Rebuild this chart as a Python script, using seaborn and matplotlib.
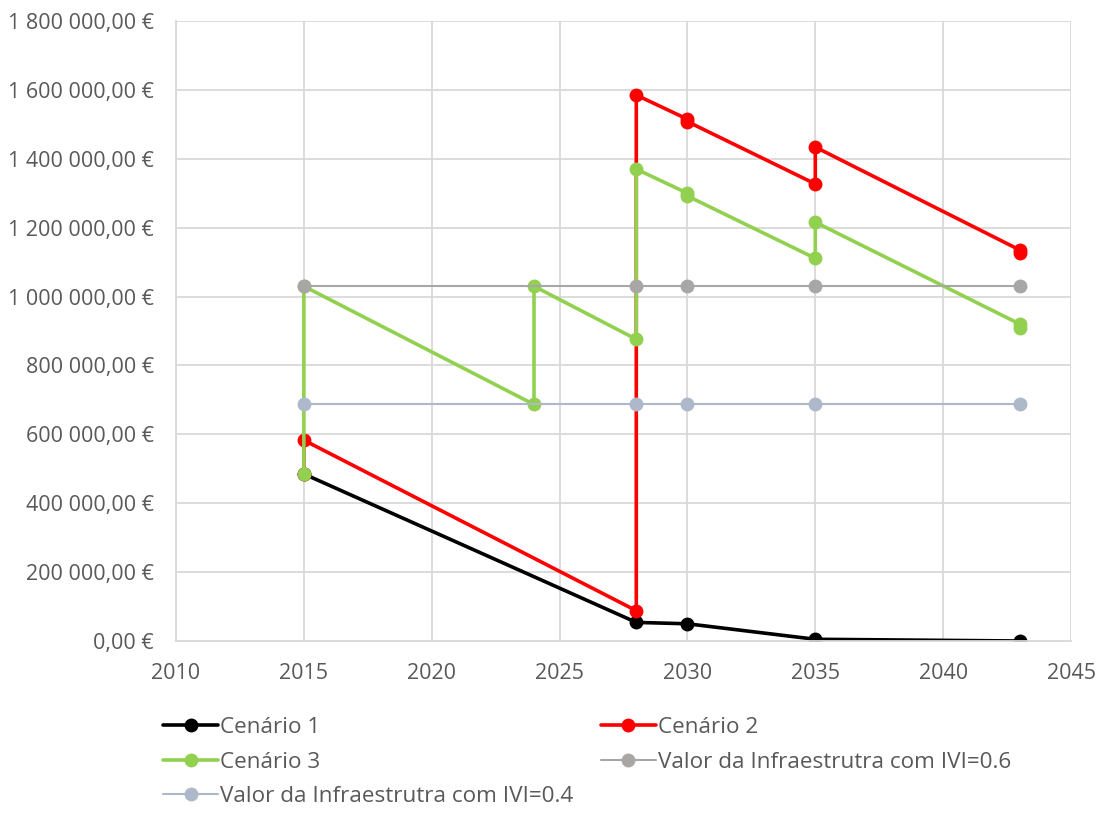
import matplotlib
matplotlib.use("Agg")
import matplotlib.pyplot as plt
import matplotlib.ticker as mticker
import seaborn as sns

# Series values (year, value in €)
anos_c1 = [2015, 2028, 2030, 2035, 2043]
val_c1 = [485000, 54000, 50000, 5000, 0]

anos_c2 = [2015, 2015, 2028, 2028, 2030, 2030, 2035, 2035, 2043, 2043]
val_c2 = [485000, 583000, 88000, 1585000, 1515000, 1508000, 1327000, 1434000, 1135000, 1126000]

anos_c3 = [2015, 2015, 2024, 2024, 2028, 2028, 2030, 2030, 2035, 2035, 2043, 2043]
val_c3 = [485000, 1030000, 686667, 1030000, 876000, 1370000, 1300000, 1292000, 1111000, 1216000, 920000, 910000]

anos_ivi = [2015, 2028, 2030, 2035, 2043]
val_ivi06 = [1030000, 1030000, 1030000, 1030000, 1030000]
val_ivi04 = [686667, 686667, 686667, 686667, 686667]

nomes = ["Cenário 1", "Cenário 2", "Cenário 3",
         "Valor da Infraestrutra com IVI=0.6",
         "Valor da Infraestrutra com IVI=0.4"]
cores = ["#000000", "#FF0000", "#92D050", "#A9A6A6", "#ADB9CA"]

sns.set_theme(style="whitegrid")
plt.rcParams["font.family"] = ["Open Sans", "DejaVu Sans"]
texto = "#595959"

fig = plt.figure(figsize=(10.98, 8.18), dpi=100)
ax = fig.add_axes([176 / 1098, 1 - 641 / 818, (1071 - 176) / 1098, (641 - 21) / 818])

series = [
    (anos_c1, val_c1, 2.6, 10),
    (anos_c2, val_c2, 2.6, 10),
    (anos_c3, val_c3, 2.6, 10),
    (anos_ivi, val_ivi06, 1.5, 10),
    (anos_ivi, val_ivi04, 1.5, 10),
]
for (xs, ys, lw, ms), nome, cor in zip(series, nomes, cores):
    sns.lineplot(x=xs, y=ys, sort=False, estimator=None, ax=ax, color=cor,
                 linewidth=lw, marker="o", markersize=ms, markeredgewidth=0,
                 label=nome)

ax.set_xlim(2010, 2045)
ax.set_ylim(0, 1800000)
ax.xaxis.set_major_locator(mticker.MultipleLocator(5))
ax.yaxis.set_major_locator(mticker.MultipleLocator(200000))


def euro(v, pos):
    s = f"{v:,.2f}"
    s = s.replace(",", " ").replace(".", ",")
    return s + " €"


ax.yaxis.set_major_formatter(mticker.FuncFormatter(euro))
ax.tick_params(axis="both", length=0, labelsize=15.5, labelcolor=texto)
ax.tick_params(axis="y", pad=16)
ax.tick_params(axis="x", pad=16)
ax.grid(True, color="#D9D9D9", linewidth=1.3)
for lado in ["top", "right"]:
    ax.spines[lado].set_visible(False)
ax.spines["left"].set_color("#D9D9D9")
ax.spines["bottom"].set_color("#D9D9D9")
ax.spines["left"].set_linewidth(1.3)
ax.spines["bottom"].set_linewidth(1.3)

h, l = ax.get_legend_handles_labels()
ax.get_legend().remove()
ordem = [0, 2, 4, 1, 3]
fig.legend([h[i] for i in ordem], [l[i] for i in ordem], ncol=2,
           loc="upper left", bbox_to_anchor=(163 / 1098, 1 - 717 / 818),
           frameon=False, fontsize=16.2, labelcolor=texto, handlelength=2.45,
           handletextpad=0.1, columnspacing=1.2, labelspacing=0.6,
           borderpad=0, borderaxespad=0)

fig.savefig("out.png", dpi=100, facecolor="white")
